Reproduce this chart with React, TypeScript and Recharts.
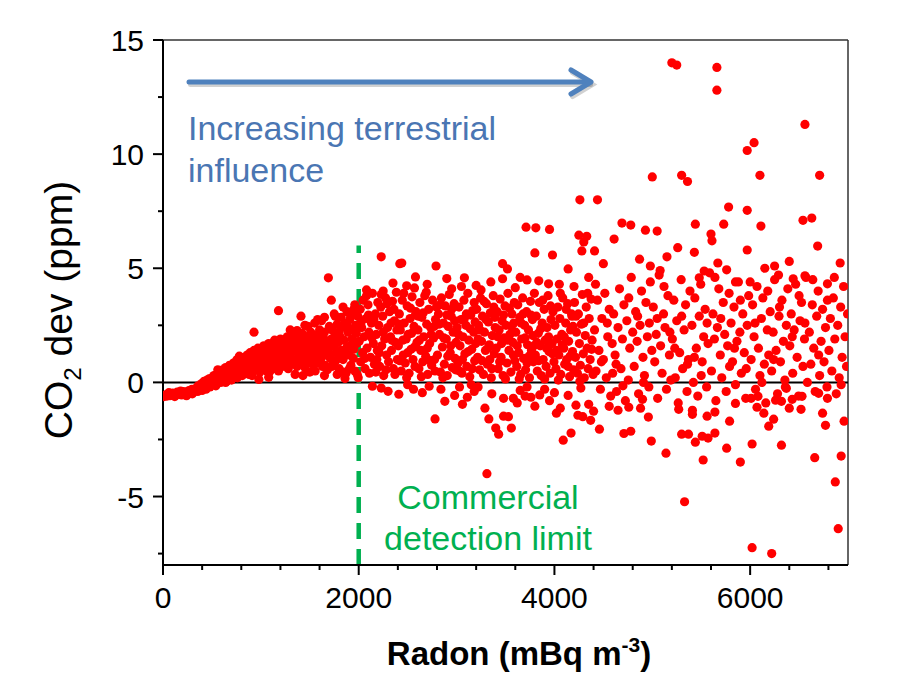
import React from "react";
import {
  ReferenceLine,
  Scatter,
  ScatterChart,
  XAxis,
  YAxis,
} from "recharts";

type Pt = [number, number];

// radon (mBq m-3), CO2 deviation (ppm)
const baseline: Pt[] = [
  [10, -0.62], [25, -0.55], [40, -0.6], [55, -0.5], [70, -0.58], [85, -0.52], [100, -0.47],
  [115, -0.56], [130, -0.5], [145, -0.43], [160, -0.52], [175, -0.46], [190, -0.55], [205, -0.4],
  [220, -0.48], [235, -0.42], [250, -0.5], [265, -0.36], [280, -0.45], [295, -0.3], [310, -0.42],
  [325, -0.35], [340, -0.25], [355, -0.4], [370, -0.3], [385, -0.2], [400, -0.35], [60, -0.45],
  [120, -0.62], [180, -0.38], [240, -0.58], [300, -0.5], [360, -0.15], [395, -0.05],
];

const rise: Pt[] = [
  [410, -0.25], [420, 0.05], [430, -0.15], [440, -0.3], [450, 0.1], [460, -0.1], [470, 0.15],
  [480, -0.2], [490, 0.0], [500, 0.2], [510, -0.05], [520, 0.3], [530, 0.1], [540, -0.15],
  [550, 0.35], [560, 0.05], [570, 0.25], [580, 0.45], [590, 0.0], [600, 0.3], [610, 0.55],
  [620, 0.15], [630, 0.4], [640, 0.65], [650, 0.05], [660, 0.5], [670, 0.25], [680, 0.75],
  [690, 0.4], [700, 0.1], [710, 0.6], [720, 0.85], [730, 0.35], [740, 0.55], [750, 0.95],
  [760, 0.2], [770, 0.7], [780, 0.45], [790, 1.0], [800, 0.6], [810, 0.3], [820, 0.85],
  [830, 1.1], [840, 0.5], [850, 0.75], [860, 1.2], [870, 0.4], [880, 0.95], [890, 1.3],
  [900, 0.65], [910, 0.3], [920, 1.05], [930, 1.4], [940, 0.8], [950, 0.55], [960, 1.2],
  [970, 1.5], [980, 0.9], [990, 0.45], [1000, 1.3], [930, 2.2], [980, 0.13], [560, 0.55],
  [640, 0.0], [720, 0.2], [780, 1.15], [880, 0.35], [760, 1.0],
];

const ramp: Pt[] = [
  [1010, 0.6], [1020, 1.1], [1030, 1.6], [1040, 0.8], [1050, 1.35], [1060, 0.5], [1070, 1.0],
  [1080, 1.7], [1090, 0.75], [1100, 1.25], [1110, 1.55], [1120, 0.6], [1130, 1.0], [1140, 1.85],
  [1150, 1.3], [1160, 0.85], [1170, 1.6], [1180, 0.5], [1190, 1.15], [1200, 1.9], [1210, 1.4],
  [1220, 0.7], [1230, 1.05], [1240, 1.75], [1250, 1.3], [1260, 0.9], [1270, 2.0], [1280, 0.6],
  [1290, 1.5], [1300, 1.2], [1310, 1.8], [1320, 0.8], [1330, 1.45], [1340, 2.05], [1350, 1.0],
  [1360, 1.65], [1370, 0.7], [1380, 1.3], [1390, 1.9], [1400, 1.55], [1410, 0.95], [1420, 2.15],
  [1430, 1.2], [1440, 1.75], [1450, 0.65], [1460, 1.45], [1470, 2.0], [1480, 1.1], [1490, 1.6],
  [1500, 0.85], [1510, 2.2], [1520, 1.35], [1530, 1.85], [1540, 0.75], [1550, 1.5], [1560, 2.05],
  [1570, 1.15], [1580, 1.7], [1590, 0.9], [1600, 2.3], [1610, 1.4], [1620, 1.95], [1630, 0.7],
  [1640, 1.6], [1650, 2.2], [1660, 1.2], [1670, 1.8], [1680, 0.55], [1690, 1.45], [1700, 2.45],
  [1710, 1.05], [1720, 1.9], [1730, 2.3], [1740, 0.8], [1750, 1.6], [1760, 2.1], [1770, 1.3],
  [1780, 2.55], [1790, 1.75], [1800, 0.6], [1810, 2.0], [1820, 1.4], [1830, 2.4], [1840, 1.0],
  [1850, 1.85], [1860, 2.6], [1870, 0.4], [1880, 1.55], [1890, 2.2], [1900, 1.2], [1910, 2.75],
  [1920, 0.75], [1930, 1.9], [1940, 2.35], [1950, 1.45], [1960, 0.5], [1970, 2.5], [1980, 1.7],
  [1990, 2.9], [1025, 1.4], [1065, 1.25], [1095, 0.5], [1135, 1.45], [1165, 1.2], [1195, 0.8],
  [1225, 1.55], [1255, 1.85], [1285, 1.0], [1315, 1.35], [1345, 0.9], [1375, 1.7], [1405, 1.25],
  [1435, 0.85], [1465, 1.75], [1495, 1.3], [1525, 0.95], [1555, 1.85], [1585, 1.35], [1615, 1.05],
  [1645, 1.9], [1675, 1.55], [1705, 1.25], [1735, 1.65], [1765, 0.95], [1795, 2.2], [1825, 1.1],
  [1855, 1.3], [1885, 2.45], [1915, 1.6], [1945, 1.05], [1975, 2.15], [1655, 0.75], [1725, 0.7],
  [1845, 0.45], [1905, 0.6], [1985, 0.35], [1995, 0.2],
  [1180, 3.14], [1410, 2.9], [1720, 3.6], [1840, 3.3], [1690, 4.58], [1080, 0.22], [1430, 0.3],
  [1860, 0.17], [1370, 2.27], [1550, 2.6], [1620, 2.7], [1480, 2.45], [1760, 2.9], [1950, 3.2],
  [1900, 3.05], [1300, 2.3], [1450, 2.5], [1580, 2.75], [1650, 2.85], [1750, 3.0], [1820, 2.85],
  [1880, 3.1], [1960, 3.4], [1920, 2.95], [1350, 0.35], [1500, 0.45], [1650, 0.3], [1780, 0.35],
  [1555, 0.5],
];

const midBand: Pt[] = [
  [2005, 1.8], [2015, 3.2], [2020, 0.9], [2030, 2.4], [2040, 1.3], [2045, 3.6], [2055, 2.0],
  [2065, 0.6], [2075, 2.8], [2085, 1.5], [2095, 3.4], [2105, 2.2], [2110, 0.4], [2120, 1.1],
  [2130, 2.6], [2140, 3.9], [2150, 1.7], [2160, 0.8], [2170, 3.0], [2180, 2.1], [2190, 1.4],
  [2195, 3.5], [2060, 1.05], [2100, 2.95], [2135, 1.95], [2175, 0.45], [2025, 2.65], [2080, 3.8],
  [2155, 2.75], [2185, 1.0],
  [2205, 2.5], [2215, 0.7], [2225, 3.3], [2235, 1.6], [2245, 2.9], [2255, 0.3], [2265, 1.9],
  [2275, 3.7], [2285, 1.2], [2295, 2.4], [2305, 0.9], [2315, 3.1], [2325, 2.0], [2335, 1.4],
  [2345, 3.55], [2355, 0.6], [2365, 2.7], [2375, 1.75], [2385, 3.95], [2395, 1.0], [2210, 1.3],
  [2250, 2.2], [2290, 3.45], [2330, 2.6], [2370, 0.35], [2230, 3.85], [2280, 0.55], [2340, 1.85],
  [2390, 2.3], [2360, 3.2],
  [2405, 1.6], [2415, 3.0], [2425, 2.3], [2435, 0.5], [2445, 3.6], [2455, 1.2], [2465, 2.6],
  [2475, 0.85], [2485, 1.9], [2495, 3.35], [2505, 2.1], [2515, 0.4], [2525, 2.8], [2535, 1.45],
  [2545, 3.75], [2555, 1.0], [2565, 2.45], [2575, 0.7], [2585, 3.1], [2595, 1.75], [2420, 0.95],
  [2460, 3.9], [2500, 1.3], [2540, 2.15], [2580, 2.95], [2410, 2.55], [2450, 1.85], [2490, 0.2],
  [2530, 3.25], [2570, 1.55],
  [2605, 2.3], [2615, 0.6], [2625, 3.5], [2635, 1.4], [2645, 2.85], [2655, 0.9], [2665, 2.0],
  [2675, 3.8], [2685, 1.15], [2695, 2.55], [2705, 0.35], [2715, 3.2], [2725, 1.7], [2735, 2.4],
  [2745, 0.75], [2755, 3.6], [2765, 1.95], [2775, 1.0], [2785, 2.75], [2795, 3.3], [2620, 1.85],
  [2660, 3.05], [2700, 1.5], [2740, 2.1], [2780, 0.5], [2640, 0.25], [2690, 3.95], [2730, 0.95],
  [2770, 2.45], [2610, 2.9],
  [2805, 1.2], [2815, 3.0], [2825, 2.1], [2835, 0.45], [2845, 3.7], [2855, 1.55], [2865, 2.6],
  [2875, 0.8], [2885, 3.35], [2895, 1.9], [2905, 0.3], [2915, 2.45], [2925, 3.85], [2935, 1.3],
  [2945, 2.9], [2955, 0.65], [2965, 2.2], [2975, 3.45], [2985, 1.05], [2995, 1.75], [2820, 2.55],
  [2860, 0.2], [2900, 2.95], [2940, 1.6], [2980, 2.7], [2830, 3.4], [2870, 1.95], [2910, 1.15],
  [2950, 3.2], [2990, 0.55],
  [3005, 2.4], [3015, 0.85], [3025, 3.3], [3035, 1.6], [3045, 2.75], [3055, 0.4], [3065, 2.0],
  [3075, 3.6], [3085, 1.25], [3095, 2.5], [3105, 0.7], [3115, 3.9], [3125, 1.85], [3135, 0.25],
  [3145, 2.95], [3155, 1.45], [3165, 3.15], [3175, 2.2], [3185, 0.95], [3195, 1.7], [3020, 2.1],
  [3060, 1.0], [3100, 3.0], [3140, 2.35], [3180, 3.5], [3030, 0.5], [3080, 2.8], [3120, 1.35],
  [3160, 0.6], [3190, 2.65],
  [3205, 3.2], [3215, 1.1], [3225, 2.5], [3235, 0.55], [3245, 3.7], [3255, 1.8], [3265, 2.9],
  [3275, 0.35], [3285, 2.2], [3295, 1.4], [3305, 3.45], [3315, 0.8], [3325, 2.65], [3335, 1.65],
  [3345, 3.05], [3355, 0.2], [3365, 2.05], [3375, 3.8], [3385, 1.25], [3395, 2.4], [3220, 1.9],
  [3260, 0.95], [3300, 2.75], [3340, 1.0], [3380, 3.3], [3240, 2.3], [3280, 3.55], [3320, 1.5],
  [3360, 0.6], [3390, 2.85],
  [3405, 1.5], [3415, 3.1], [3425, 0.6], [3435, 2.3], [3445, 3.65], [3455, 1.1], [3465, 2.7],
  [3475, 0.3], [3485, 1.95], [3495, 3.35], [3505, 2.5], [3515, 0.85], [3525, 3.9], [3535, 1.4],
  [3545, 2.1], [3555, 0.45], [3565, 3.0], [3575, 1.75], [3585, 2.6], [3595, 0.95], [3420, 2.0],
  [3460, 1.7], [3500, 0.15], [3540, 3.25], [3580, 1.2], [3440, 0.9], [3480, 2.95], [3520, 1.85],
  [3560, 2.45], [3590, 3.5],
  [3605, 2.2], [3615, 0.7], [3625, 3.4], [3635, 1.3], [3645, 2.85], [3655, 0.35], [3665, 1.9],
  [3675, 3.7], [3685, 1.05], [3695, 2.5], [3705, 0.55], [3715, 3.1], [3725, 1.65], [3735, 2.3],
  [3745, 0.2], [3755, 3.55], [3765, 1.4], [3775, 2.75], [3785, 0.9], [3795, 3.9], [3620, 1.6],
  [3660, 2.6], [3700, 1.95], [3740, 1.15], [3780, 2.05], [3640, 0.15], [3680, 3.0], [3720, 0.85],
  [3760, 2.95], [3790, 1.6],
  [3805, 1.2], [3815, 2.9], [3825, 0.5], [3835, 2.15], [3845, 3.5], [3855, 1.6], [3865, 0.3],
  [3875, 2.6], [3885, 1.0], [3895, 3.2], [3905, 1.85], [3915, 0.7], [3925, 2.4], [3935, 3.8],
  [3945, 1.35], [3955, 0.4], [3965, 2.75], [3975, 1.7], [3985, 3.1], [3995, 0.9], [3820, 1.75],
  [3860, 2.35], [3900, 0.15], [3940, 2.0], [3980, 1.25], [3840, 0.95], [3880, 3.6], [3920, 1.5],
  [3960, 3.35],
  [4005, 2.5], [4015, 0.6], [4025, 1.9], [4035, 3.3], [4045, 1.2], [4055, 2.8], [4065, 0.35],
  [4075, 2.1], [4085, 3.7], [4095, 1.5], [4105, 0.8], [4115, 2.6], [4125, 1.0], [4135, 3.45],
  [4145, 1.8], [4155, 0.25], [4165, 2.3], [4175, 3.0], [4185, 1.35], [4195, 0.55], [4020, 1.4],
  [4060, 3.9], [4100, 2.0], [4140, 0.7], [4180, 2.9], [4040, 0.1], [4080, 1.65], [4120, 3.2],
  [4160, 1.15], [4190, 2.45],
  [4205, 3.5], [4215, 1.1], [4225, 2.2], [4235, 0.4], [4245, 3.0], [4255, 1.7], [4265, 0.75],
  [4275, 2.55], [4285, 3.85], [4295, 1.25], [4305, 0.2], [4315, 2.05], [4325, 3.3], [4335, 1.5],
  [4345, 0.6], [4355, 2.8], [4365, 1.0], [4375, 3.65], [4385, 1.85], [4395, 0.35], [4220, 2.9],
  [4260, 0.05], [4300, 2.6], [4340, 3.9], [4380, 1.45],
];

const midBelow: Pt[] = [
  [2140, -0.17], [2300, -0.39], [2410, -0.52], [2720, -0.17], [2230, -0.25], [2560, -0.3],
  [2650, -0.45], [2880, -0.83], [2980, -0.57], [3060, -0.96], [3110, -0.65], [3290, -1.13],
  [3330, -1.6], [3400, -2.0], [3430, -2.27], [3480, -1.48], [3530, -1.5], [3560, -2.0],
  [3480, -0.7], [3580, -0.7], [3800, -1.04], [4090, -2.53], [4170, -2.22], [4020, -1.35],
  [4060, -1.13], [4140, -0.57], [4220, -1.0], [4240, -1.44], [4290, -1.5], [4370, -1.66],
  [4400, -1.26], [4350, -0.96], [2780, -1.6], [3310, -4.0], [2840, -0.3], [3180, -0.4],
  [3220, -0.2], [3360, -0.5], [3650, -0.35], [3700, -0.6], [3850, -0.55], [3900, -0.3],
  [3950, -0.8], [4000, -0.45], [4270, -0.25], [3030, -0.2], [3150, -0.1], [2500, -0.1],
  [3620, -0.9], [3720, -0.2], [3760, -0.65], [4460, -2.05],
];

const midAbove: Pt[] = [
  [2230, 5.5], [2420, 5.2], [2080, 4.05], [2250, 4.0], [2440, 5.23], [2790, 5.1], [3470, 5.2],
  [3520, 4.97], [3080, 4.58], [3470, 4.54], [3720, 4.49], [3840, 4.45], [3940, 4.32],
  [4140, 4.97], [2580, 4.62], [2490, 4.23], [2570, 4.14], [3710, 6.8], [3810, 6.77], [3950, 6.7],
  [4250, 6.45], [4330, 6.4], [4300, 6.15], [4280, 5.76], [4410, 5.76], [3800, 5.67], [3980, 5.58],
  [4260, 8.0], [4440, 8.0], [2700, 4.3], [2950, 4.1], [3200, 4.25], [3350, 4.4], [3600, 4.15],
  [4050, 4.3], [4350, 4.6], [2350, 4.35], [2900, 4.55], [3050, 4.2], [3250, 4.05], [3650, 4.6],
  [4200, 4.2],
];

const farBand: Pt[] = [
  [4410, 2.3], [4425, 0.5], [4440, 3.6], [4455, 1.4], [4470, -0.3], [4485, 2.8], [4500, 1.0],
  [4515, 3.9], [4530, 0.2], [4545, 2.0], [4560, 3.2], [4575, -0.6], [4590, 1.7], [4420, 4.3],
  [4480, 0.9], [4540, 2.6], [4595, 0.4],
  [4605, 3.0], [4620, 1.2], [4635, -0.4], [4650, 2.4], [4665, 4.1], [4680, 0.6], [4695, 1.9],
  [4710, 3.4], [4725, -0.8], [4740, 2.7], [4755, 0.1], [4770, 1.5], [4785, 4.6], [4800, 2.2],
  [4630, 0.8], [4700, -0.15], [4760, 3.7],
  [4815, 0.7], [4830, 3.1], [4845, 1.8], [4860, -0.5], [4875, 2.5], [4890, 4.0], [4905, 1.1],
  [4920, 0.3], [4935, 3.5], [4950, 2.0], [4965, -0.2], [4980, 4.4], [4995, 1.4], [4850, 2.9],
  [4910, 0.0], [4970, 2.6],
  [5010, 3.3], [5025, 0.9], [5040, 2.1], [5055, -0.7], [5070, 4.7], [5085, 1.6], [5100, 0.4],
  [5115, 3.0], [5130, 2.4], [5145, -0.3], [5160, 3.8], [5175, 1.2], [5190, 0.1], [5050, 2.8],
  [5120, 4.2], [5180, 2.2],
  [5205, 1.9], [5220, 3.6], [5235, 0.2], [5250, 2.7], [5265, -0.9], [5280, 1.3], [5295, 4.5],
  [5310, 0.6], [5325, 2.3], [5340, 3.4], [5355, -0.4], [5370, 1.0], [5385, 4.0], [5230, 1.5],
  [5300, 2.9], [5360, 0.8],
  [5405, 2.5], [5420, 0.0], [5435, 3.7], [5450, 1.5], [5465, -0.6], [5480, 2.9], [5495, 4.3],
  [5510, 0.9], [5525, 2.0], [5540, 3.2], [5555, -0.2], [5570, 1.7], [5585, 4.8], [5430, 1.1],
  [5500, 0.3], [5560, 2.6],
  [5605, 0.5], [5620, 3.0], [5635, 1.9], [5650, -0.8], [5665, 2.4], [5680, 4.1], [5695, 1.2],
  [5710, 0.2], [5725, 3.5], [5740, 2.1], [5755, -0.4], [5770, 1.6], [5785, 3.9], [5640, 4.6],
  [5700, 2.8], [5790, 0.7],
  [5805, 2.6], [5820, 0.9], [5835, 3.3], [5850, -0.1], [5865, 1.8], [5880, 4.4], [5895, 2.2],
  [5910, 0.4], [5925, 3.0], [5940, 1.3], [5955, -0.7], [5970, 2.5], [5985, 3.8], [5840, 1.5],
  [5900, 3.6], [5960, 0.6],
  [6010, 1.0], [6025, 3.4], [6040, 2.0], [6055, -0.3], [6070, 4.2], [6085, 1.5], [6100, 0.3],
  [6115, 2.8], [6130, 3.7], [6145, 0.8], [6160, -0.9], [6175, 2.3], [6190, 1.2], [6050, 2.6],
  [6120, 0.0], [6180, 4.0],
  [6205, 3.1], [6220, 0.5], [6235, 2.2], [6250, 4.5], [6265, 1.4], [6280, -0.5], [6295, 2.9],
  [6310, 0.9], [6325, 3.6], [6340, 1.8], [6355, 0.1], [6370, 2.5], [6385, 4.1], [6240, 1.0],
  [6300, 3.3], [6360, -0.2],
  [6405, 1.6], [6420, 3.0], [6435, 0.4], [6450, 2.3], [6465, 4.3], [6480, 1.1], [6495, -0.6],
  [6510, 2.7], [6525, 3.5], [6540, 0.7], [6555, 1.9], [6570, 4.6], [6585, 0.0], [6430, 2.0],
  [6500, 3.8], [6560, 2.6],
  [6605, 2.2], [6620, 0.8], [6635, 3.4], [6650, 1.5], [6665, -0.4], [6680, 2.9], [6695, 4.0],
  [6710, 0.3], [6725, 1.8], [6740, 3.2], [6755, 0.9], [6770, 2.4], [6785, -0.2], [6640, 4.5],
  [6700, 1.2], [6790, 3.6],
  [6805, 1.4], [6820, 2.8], [6835, 0.5], [6850, 3.7], [6865, 1.9], [6880, -0.5], [6895, 2.5],
  [6910, 0.2], [6925, 3.3], [6940, 1.1], [6955, 4.2], [6970, 2.0], [6985, 0.7], [6995, 3.0],
  [6860, 4.6], [6930, -0.1],
];

const farAbove: Pt[] = [
  [5200, 14.0], [5250, 13.9], [5660, 13.8], [5660, 12.8], [6560, 11.3], [6040, 10.5],
  [5970, 10.16], [5000, 9.0], [5300, 9.07], [5360, 8.8], [6100, 9.07], [6710, 9.07],
  [5780, 7.68], [5970, 7.54], [4690, 6.98], [4780, 6.89], [4930, 6.67], [5050, 6.63],
  [5440, 6.93], [5730, 6.93], [6110, 6.85], [6540, 7.1], [6630, 7.2], [4610, 6.28], [5600, 6.5],
  [5610, 6.2], [5260, 5.9], [5430, 5.7], [5970, 5.8], [6690, 5.97], [6920, 5.23], [5670, 5.23],
  [5760, 4.93], [6150, 5.0], [6290, 4.7], [6440, 4.54], [6560, 4.67], [6790, 4.32], [5850, 4.4],
  [6000, 4.4], [5530, 4.88], [5480, 4.58], [4500, 5.2], [4870, 5.4], [5150, 5.5], [6400, 5.3],
  [6250, 5.1], [4980, 5.1], [5080, 4.9],
];

const farBelow: Pt[] = [
  [4710, -2.24], [4780, -2.14], [4990, -2.57], [5140, -3.1], [5330, -5.23], [5300, -2.27],
  [5370, -2.27], [5440, -2.62], [5510, -2.36], [5570, -2.44], [5640, -2.22], [5520, -3.4],
  [5760, -2.88], [5900, -3.49], [6020, -2.7], [6320, -2.75], [6020, -7.24], [6220, -7.5],
  [6660, -3.3], [6930, -3.23], [6870, -4.36], [6900, -6.41], [6960, -1.7], [6770, -1.88],
  [6740, -1.35], [5270, -1.18], [5410, -1.22], [5410, -1.4], [5560, -1.48], [5640, -1.3],
  [5790, -1.7], [5850, -0.92], [4960, -1.52], [4880, -1.13], [4650, -1.22], [4560, -1.05],
  [4760, -1.09], [4900, -0.74], [6070, -1.09], [6140, -1.35], [6240, -1.61], [6190, -1.92],
  [6260, -0.78], [6320, -0.83], [6400, -1.13], [6520, -1.18], [6430, -0.74], [6530, -0.61],
  [6700, -0.48], [6790, -0.7], [6010, -0.7], [6080, -0.61], [6370, -0.26],
];

const xTicks = [0, 400, 800, 1200, 1600, 2000, 2400, 2800, 3200, 3600, 4000, 4400, 4800, 5200, 5600, 6000, 6400, 6800];
const yTicks = [-7.5, -5, -2.5, 0, 2.5, 5, 7.5, 10, 12.5, 15];

const points = [
  ...baseline, ...rise, ...ramp, ...midBand, ...midBelow, ...midAbove,
  ...farBand, ...farAbove, ...farBelow,
].map(([radon, co2]) => ({ radon, co2 }));

const font = "Arial, 'Liberation Sans', sans-serif";

function XTick({ x, y, payload }: any) {
  const major = payload.value % 2000 === 0;
  return (
    <g>
      <line x1={x} x2={x} y1={y} y2={y + (major ? 10 : 5)} stroke="#000" strokeWidth={2} />
      {major && (
        <text x={x} y={y + 43} textAnchor="middle" fontSize={30} fontFamily={font} fill="#000">
          {payload.value}
        </text>
      )}
    </g>
  );
}

function YTick({ x, y, payload }: any) {
  const major = payload.value % 5 === 0;
  return (
    <g>
      <line x1={x - (major ? 10 : 5)} x2={x} y1={y} y2={y} stroke="#000" strokeWidth={2} />
      {major && (
        <text x={x - 19} y={y + 11} textAnchor="end" fontSize={30} fontFamily={font} fill="#000">
          {payload.value}
        </text>
      )}
    </g>
  );
}

const dot = (p: any) => <circle cx={p.cx} cy={p.cy} r={4.6} fill="#ff0000" />;

export default function App() {
  return (
    <div style={{ position: "absolute", left: 0, top: 0, width: 897, height: 683, background: "#fff" }}>
      <ScatterChart width={897} height={683} margin={{ top: 40, right: 49, bottom: 0, left: 0 }}>
        <XAxis
          type="number"
          dataKey="radon"
          domain={[0, 7000]}
          ticks={xTicks}
          interval={0}
          allowDataOverflow
          height={118}
          tickSize={0}
          tickMargin={0}
          tickLine={false}
          axisLine={{ stroke: "#000", strokeWidth: 2 }}
          tick={<XTick />}
        />
        <YAxis
          type="number"
          dataKey="co2"
          domain={[-8, 15]}
          ticks={yTicks}
          interval={0}
          allowDataOverflow
          width={163}
          tickSize={0}
          tickMargin={0}
          tickLine={false}
          axisLine={{ stroke: "#000", strokeWidth: 2 }}
          tick={<YTick />}
        />
        <ReferenceLine y={15} stroke="#333" strokeWidth={1.5} />
        <ReferenceLine x={7000} stroke="#333" strokeWidth={1.5} />
        <Scatter data={points} shape={dot} isAnimationActive={false} />
        <ReferenceLine y={0} stroke="#000" strokeWidth={2} />
        <ReferenceLine
          segment={[{ x: 2000, y: -8 }, { x: 2000, y: 6 }]}
          stroke="#00b050"
          strokeWidth={4.5}
          strokeDasharray="16 10"
        />
      </ScatterChart>
      <svg
        width={897}
        height={683}
        style={{ position: "absolute", left: 0, top: 0, pointerEvents: "none" }}
        fontFamily={font}
      >
        <g stroke="rgba(0,0,0,0.18)" strokeWidth={5} fill="none" strokeLinecap="round" transform="translate(1.5,2.5)">
          <line x1={189} y1={82} x2={589} y2={82} />
          <polyline points="571,70 591,82 571,94" />
        </g>
        <g stroke="#4f81bd" strokeWidth={5} fill="none" strokeLinecap="round" strokeLinejoin="round">
          <line x1={189} y1={82} x2={589} y2={82} />
          <polyline points="571,70 591,82 571,94" />
        </g>
        <text x={188} y={140} fontSize={34} fill="#4a76b3">Increasing terrestrial</text>
        <text x={188} y={182} fontSize={34} fill="#4a76b3">influence</text>
        <text x={488} y={509} fontSize={34} fill="#00b050" textAnchor="middle">Commercial</text>
        <text x={488} y={550} fontSize={34} fill="#00b050" textAnchor="middle">detection limit</text>
        <text transform="translate(72,310) rotate(-90)" fontSize={39} textAnchor="middle" fill="#000">
          CO<tspan dy={9} fontSize={24}>2</tspan><tspan dy={-9}> dev (ppm)</tspan>
        </text>
        <text x={519} y={665} fontSize={33} fontWeight="bold" textAnchor="middle" fill="#000">
          Radon (mBq m<tspan dy={-13} fontSize={21}>-3</tspan><tspan dy={13}>)</tspan>
        </text>
      </svg>
    </div>
  );
}
